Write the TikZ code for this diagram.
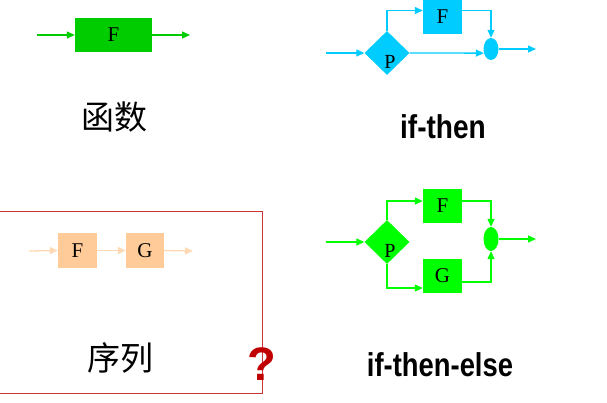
\documentclass[tikz,border=0pt]{standalone}
\usepackage{fontspec}
\setmainfont{Liberation Serif}
\newfontfamily\cjk{Noto Sans CJK SC}
\newfontfamily\lsans{Liberation Sans}
\usetikzlibrary{shapes.geometric,arrows.meta}
\definecolor{fgreen}{HTML}{00CC00}
\definecolor{bgreen}{HTML}{00FF00}
\definecolor{cyanb}{HTML}{00CCFF}
\definecolor{peach}{HTML}{FFCC99}
\definecolor{peachline}{HTML}{FFD9B3}
\definecolor{qred}{HTML}{C00000}
\definecolor{framered}{HTML}{CC3333}
\begin{document}
\begin{tikzpicture}[x=1pt,y=-1pt,
  blk/.style={draw=none, rectangle, minimum width=39pt, minimum height=34pt, inner sep=0pt, font=\fontsize{21}{21}\selectfont},
  dia/.style={draw=none, diamond, minimum width=45pt, minimum height=44pt, inner sep=0pt,
    label={[font=\fontsize{20}{20}\selectfont, xshift=3pt, yshift=-9pt]center:P}},
  ell/.style={draw=none, ellipse, minimum width=15pt, minimum height=22pt, inner sep=0pt},
  arr/.style={line width=1.3pt, -{Triangle[length=8pt,width=7pt]}},
  captxt/.style={font=\lsans\bfseries\fontsize{33}{33}\selectfont},
  zh/.style={font=\cjk\fontsize{33}{33}\selectfont}]
\useasboundingbox (0,0) rectangle (607,402);

% function
\node[blk, fill=fgreen, minimum width=77pt] (f1) at (113.5,35) {F};
\coordinate (f1in) at (37,35);
\coordinate (f1out) at (190,35);
\draw[arr, fgreen] (f1in) -- (f1.west);
\draw[arr, fgreen] (f1.east) -- (f1out);
\node[zh] (t1) at (114,117) {函数};

% if-then
\node[blk, fill=cyanb] (f2) at (442.5,16.5) {F};
\node[dia, fill=cyanb] (p2) at (387,53) {};
\node[ell, fill=cyanb] (e2) at (491,49) {};
\coordinate (p2in) at (326,53);
\coordinate (e2out) at (536,49);
\draw[arr, cyanb] (p2in) -- (p2.west);
\draw[arr, cyanb] (p2.north) |- ([yshift=6pt]f2.west);
\draw[arr, cyanb] ([yshift=6pt]f2.east) -| (e2.north);
\draw[arr, cyanb] (p2.east) -- (e2.210);
\draw[arr, cyanb] (e2.east) -- (e2out);
\node[captxt, xscale=0.85] (t2) at (443,127) {if-then};

% sequence
\draw[framered, line width=1pt] (-5,211) -- (262,211) -- (262,393) -- (-5,393);
\node[blk, fill=peach, minimum height=35pt] (f4) at (77.5,250.5) {F};
\node[blk, fill=peach, minimum width=38pt, minimum height=35pt] (g4) at (145,250.5) {G};
\coordinate (f4in) at (29,251);
\coordinate (g4out) at (193,251);
\draw[arr, peachline] (f4in) -- (f4.west);
\draw[arr, peachline] (f4.east) -- (g4.west);
\draw[arr, peachline] (g4.east) -- (g4out);
\node[zh] (t4) at (120,358) {序列};
\node[font=\lsans\bfseries\fontsize{47}{47}\selectfont, text=qred] (q) at (262,364) {?};

% if-then-else
\node[blk, fill=bgreen] (f3) at (442.5,206) {F};
\node[blk, fill=bgreen] (g3) at (442.5,276) {G};
\node[dia, fill=bgreen] (p3) at (387,242) {};
\node[ell, fill=bgreen, minimum height=24pt] (e3) at (491,239) {};
\coordinate (p3in) at (326,242);
\coordinate (e3out) at (536,239);
\draw[arr, bgreen] (p3in) -- (p3.west);
\draw[arr, bgreen] (p3.north) |- ([yshift=5pt]f3.west);
\draw[arr, bgreen] (p3.south) |- ([yshift=-12pt]g3.west);
\draw[arr, bgreen] ([yshift=5pt]f3.east) -| (e3.north);
\draw[arr, bgreen] ([yshift=-6pt]g3.east) -| (e3.south);
\draw[arr, bgreen] (e3.east) -- (e3out);
\node[captxt, xscale=0.83] (t3) at (440,365) {if-then-else};
\end{tikzpicture}
\end{document}
